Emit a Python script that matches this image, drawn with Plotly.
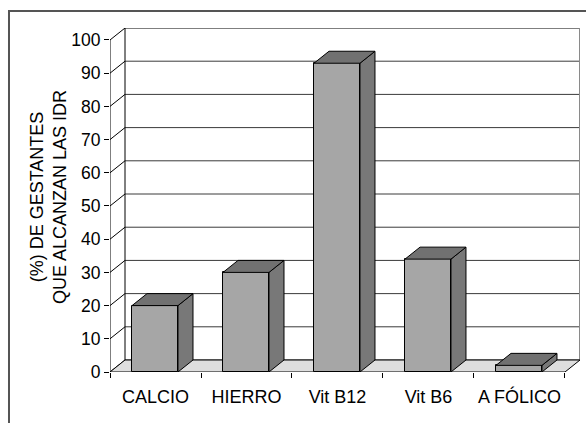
import plotly.graph_objects as go

# Share of pregnant women reaching the recommended intake (IDR), by nutrient
categorias = ["CALCIO", "HIERRO", "Vit B12", "Vit B6", "A FÓLICO"]
porcentajes = [20, 30, 93, 34, 2]
marcas_y = list(range(0, 101, 10))

# Pseudo-3D depth of the plot box, in axis units
DX = 0.165    # horizontal depth (category units)
DY = 3.61     # vertical depth (percentage units)
ANCHO = 0.505  # bar front-face width
DESPL = 0.242  # bar left edge offset within each category slot

FRENTE = "#a6a6a6"
LATERAL = "#787878"
TECHO = "#717171"
SUELO = "#dedede"
FUENTE = "Liberation Sans"

n = len(categorias)
fig = go.Figure()

# Front faces of the bars
fig.add_trace(go.Bar(
    x=[i + DESPL + ANCHO / 2 for i in range(n)],
    y=porcentajes,
    width=ANCHO,
    marker=dict(color=FRENTE, line=dict(color="black", width=1)),
    hoverinfo="skip",
    showlegend=False,
))

# Side and top faces of each bar
for i, v in enumerate(porcentajes):
    x0 = i + DESPL
    x1 = x0 + ANCHO
    fig.add_trace(go.Scatter(
        x=[x1, x1 + DX, x1 + DX, x1, x1],
        y=[0, DY, v + DY, v, 0],
        mode="lines", fill="toself", fillcolor=LATERAL,
        line=dict(color="black", width=1),
        hoverinfo="skip", showlegend=False,
    ))
    fig.add_trace(go.Scatter(
        x=[x0, x1, x1 + DX, x0 + DX, x0],
        y=[v, v, v + DY, v + DY, v],
        mode="lines", fill="toself", fillcolor=TECHO,
        line=dict(color="black", width=1),
        hoverinfo="skip", showlegend=False,
    ))

# Front value axis line (0..100)
fig.add_trace(go.Scatter(
    x=[0, 0], y=[0, 100], mode="lines",
    line=dict(color="black", width=1),
    hoverinfo="skip", showlegend=False,
))

shapes = []
# Back wall
shapes.append(dict(type="rect", xref="x", yref="y", layer="below",
                   x0=DX, x1=n + DX, y0=DY, y1=100 + DY,
                   fillcolor="white", line=dict(width=0)))
# Back-wall gridlines and left-wall diagonals
for t in marcas_y:
    shapes.append(dict(type="line", xref="x", yref="y", layer="below",
                       x0=DX, x1=n + DX, y0=t + DY, y1=t + DY,
                       line=dict(color="black" if t == 100 else "#3a3a3a", width=1)))
    shapes.append(dict(type="line", xref="x", yref="y", layer="below",
                       x0=0, x1=DX, y0=t, y1=t + DY,
                       line=dict(color="black", width=1)))
# Back wall edges
shapes.append(dict(type="line", xref="x", yref="y", layer="below",
                   x0=DX, x1=DX, y0=DY, y1=100 + DY,
                   line=dict(color="black", width=1)))
shapes.append(dict(type="line", xref="x", yref="y", layer="below",
                   x0=n + DX, x1=n + DX, y0=DY, y1=100 + DY,
                   line=dict(color="#8a8a8a", width=2)))
# Floor
shapes.append(dict(type="path", xref="x", yref="y", layer="below",
                   path=f"M 0 0 L {n} 0 L {n + DX} {DY} L {DX} {DY} Z",
                   fillcolor=SUELO, line=dict(color="black", width=1)))
# Outer frame (top and left edges)
shapes.append(dict(type="path", xref="paper", yref="paper", layer="above",
                   path="M -0.2149 -0.16 L -0.2149 1.0494 L 1.03 1.0494",
                   line=dict(color="#555555", width=2)))

fig.update_layout(
    width=586, height=423,
    margin=dict(l=110, r=6, t=28, b=51),
    paper_bgcolor="white", plot_bgcolor="white",
    font=dict(family=FUENTE, size=18, color="black"),
    shapes=shapes,
    bargap=0,
    xaxis=dict(
        range=[0, n + DX], showgrid=False, zeroline=False, showline=False,
        tickmode="array", tickvals=list(range(n + 1)), ticktext=[""] * (n + 1),
        ticks="outside", ticklen=5, tickwidth=1, tickcolor="black",
        fixedrange=True,
    ),
    xaxis2=dict(
        overlaying="x", matches="x", side="bottom", anchor="y",
        range=[0, n + DX], showgrid=False, zeroline=False, showline=False,
        tickmode="array", tickvals=[i + 0.5 for i in range(n)],
        ticktext=categorias, ticks="", ticklabelstandoff=12,
        tickfont=dict(family=FUENTE, size=18, color="black"),
        fixedrange=True,
    ),
    yaxis=dict(
        range=[0, 100 + DY], showgrid=False, zeroline=False, showline=False,
        tickmode="array", tickvals=marcas_y,
        ticks="outside", ticklen=5, tickwidth=1, tickcolor="black",
        tickfont=dict(family=FUENTE, size=17.5, color="black"),
        fixedrange=True,
    ),
    annotations=[dict(
        xref="paper", yref="paper", x=-0.2149 + 0.084, y=0.51,
        text="(%) DE GESTANTES<br>QUE ALCANZAN LAS IDR",
        textangle=-90, showarrow=False,
        font=dict(family=FUENTE, size=18, color="black"),
        xanchor="center", yanchor="middle",
    )],
)

# Invisible trace so the label axis is rendered
fig.add_trace(go.Scatter(x=[0], y=[0], xaxis="x2", mode="markers",
                         marker=dict(opacity=0), hoverinfo="skip",
                         showlegend=False))

fig.write_html("out.html")
